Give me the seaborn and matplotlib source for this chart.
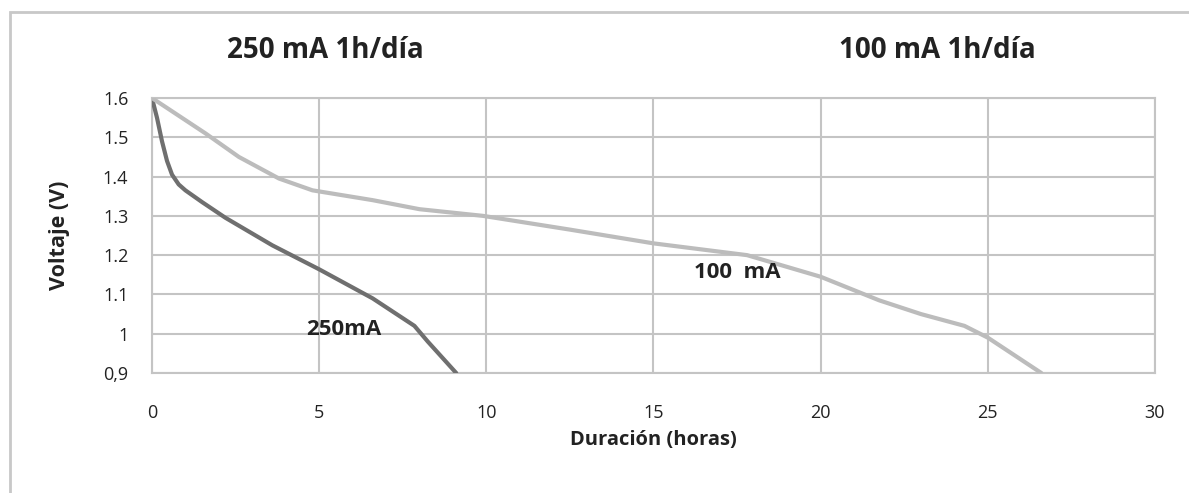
import matplotlib
matplotlib.use("Agg")
import matplotlib.pyplot as plt
import seaborn as sns
import pandas as pd
from matplotlib.patches import Rectangle

# 250 mA series
h250 = [0, 0.15, 0.3, 0.45, 0.6, 0.8, 1.0, 1.5, 2.2, 3.6, 5.0, 6.6, 7.85, 8.25, 9.1]
v250 = [1.6, 1.55, 1.49, 1.44, 1.405, 1.38, 1.365, 1.335, 1.295, 1.225, 1.164, 1.09, 1.02, 0.98, 0.9]
# 100 mA series
h100 = [0, 1.6, 2.6, 3.8, 4.8, 6.6, 8.0, 9.9, 12.5, 15.0, 17.8, 20.0, 21.75, 23.0, 24.3, 25.0, 26.6]
v100 = [1.6, 1.51, 1.45, 1.395, 1.365, 1.34, 1.317, 1.30, 1.265, 1.23, 1.20, 1.145, 1.085, 1.05, 1.02, 0.99, 0.9]

x_ticks = [0, 5, 10, 15, 20, 25, 30]
y_ticks = [0.9, 1.0, 1.1, 1.2, 1.3, 1.4, 1.5, 1.6]
y_labels = ["0,9", "1", "1.1", "1.2", "1.3", "1.4", "1.5", "1.6"]

sns.set_theme(style="white")
plt.rcParams['font.family'] = ['Open Sans', 'DejaVu Sans']

df = pd.concat([
    pd.DataFrame({"h": h250, "v": v250, "s": "250"}),
    pd.DataFrame({"h": h100, "v": v100, "s": "100"}),
])

fig = plt.figure(figsize=(11.89, 4.93), dpi=100)
ax = fig.add_axes([0.1278, 0.2434, 0.9714 - 0.1278, 0.8012 - 0.2434])

sns.lineplot(data=df, x="h", y="v", hue="s", palette={"250": "#6f6f6f", "100": "#bcbcbc"},
             linewidth=3, legend=False, ax=ax, sort=False, zorder=3)

ax.set_xlim(0, 30)
ax.set_ylim(0.9, 1.6)
ax.set_xticks(x_ticks)
ax.set_xticklabels([str(t) for t in x_ticks], fontsize=13, color="#222222")
ax.set_yticks(y_ticks)
ax.set_yticklabels(y_labels, fontsize=13, color="#222222")
ax.tick_params(axis='x', pad=22, length=0)
ax.tick_params(axis='y', pad=17, length=0)
ax.grid(True, color="#c4c4c4", linewidth=1.5)
for sp in ax.spines.values():
    sp.set_color("#c4c4c4")
    sp.set_linewidth(1.5)

ax.set_xlabel("Duración (horas)", fontsize=14.5, fontweight="bold", labelpad=6, color="#222222")
ax.set_ylabel("Voltaje (V)", fontsize=15.5, fontweight="bold", labelpad=24, color="#222222")

ax.text(5.75, 1.01, "250mA", fontsize=16, fontweight="bold", ha="center", va="center", color="#222222", zorder=4)
ax.text(17.5, 1.157, "100  mA", fontsize=16, fontweight="bold", ha="center", va="center", color="#222222", zorder=4)

fig.text(325 / 1189, 1 - 50 / 493, "250 mA 1h/día", fontsize=20, fontweight="bold", ha="center", va="center", color="#222222")
fig.text(937 / 1189, 1 - 50 / 493, "100 mA 1h/día", fontsize=20, fontweight="bold", ha="center", va="center", color="#222222")

fig.patches.append(Rectangle((10 / 1189, -0.1), 1.2, 1 - 12 / 493 + 0.1, transform=fig.transFigure,
                             fill=False, edgecolor="#c8c8c8", linewidth=2))

fig.savefig("out.png", dpi=100)
